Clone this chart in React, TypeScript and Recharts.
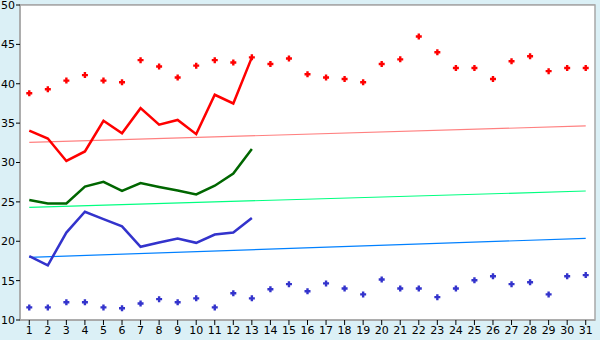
import React from 'react';
import { ComposedChart, Line, XAxis, YAxis, CartesianGrid, ReferenceArea } from 'recharts';

const days = Array.from({ length: 31 }, (_, i) => String(i + 1));

const redDots = [38.8, 39.3, 40.4, 41.1, 40.4, 40.2, 43.0, 42.2, 40.8, 42.3, 43.0, 42.7, 43.35, 42.5, 43.2, 41.2, 40.8, 40.6, 40.2, 42.5, 43.1, 46.0, 44.0, 42.0, 42.0, 40.6, 42.85, 43.5, 41.6, 42.0, 42.0];
const redLine = [34.05, 33.05, 30.2, 31.4, 35.3, 33.7, 36.9, 34.8, 35.4, 33.6, 38.6, 37.5, 43.35];
const greenLine = [25.25, 24.8, 24.8, 26.95, 27.55, 26.4, 27.4, 26.9, 26.45, 25.95, 27.05, 28.6, 31.7];
const blueLine = [18.1, 16.95, 21.1, 23.75, 22.8, 21.9, 19.3, 19.85, 20.35, 19.8, 20.85, 21.1, 22.95];
const blueDots = [11.6, 11.6, 12.25, 12.25, 11.6, 11.5, 12.1, 12.65, 12.25, 12.75, 11.6, 13.4, 12.75, 13.9, 14.55, 13.65, 14.65, 14.0, 13.25, 15.15, 14.0, 14.0, 12.9, 14.0, 15.05, 15.55, 14.55, 14.8, 13.25, 15.55, 15.7];
const redTrend = [32.55, 34.64];
const greenTrend = [24.3, 26.38];
const blueTrend = [17.96, 20.37];
const yTicks = [10, 15, 20, 25, 30, 35, 40, 45, 50];

const data = days.map((d, i) => ({
  day: d,
  redDot: redDots[i],
  blueDot: blueDots[i],
  red: i < redLine.length ? redLine[i] : null,
  green: i < greenLine.length ? greenLine[i] : null,
  blue: i < blueLine.length ? blueLine[i] : null,
  redT: i === 0 ? redTrend[0] : i === days.length - 1 ? redTrend[1] : null,
  greenT: i === 0 ? greenTrend[0] : i === days.length - 1 ? greenTrend[1] : null,
  blueT: i === 0 ? blueTrend[0] : i === days.length - 1 ? blueTrend[1] : null,
}));

const makePlus = (color: string) => (props: any) => {
  const { cx, cy, key } = props;
  if (cx == null || cy == null || props.value == null) return <g key={key} />;
  const a = 3;
  const t = 1.2;
  const d = `M${cx - t},${cy - a}H${cx + t}V${cy - t}H${cx + a}V${cy + t}H${cx + t}V${cy + a}H${cx - t}V${cy + t}H${cx - a}V${cy - t}H${cx - t}Z`;
  return <path key={key} d={d} fill={color} stroke="none" />;
};

const font = { fontFamily: 'DejaVu Sans', fontSize: 11, fill: '#000' };

export default function App() {
  return (
    <div style={{ position: 'fixed', left: 0, top: 0, width: 600, height: 340, background: '#DBF0F6' }}>
      <ComposedChart width={600} height={340} data={data} margin={{ top: 5, right: 5, bottom: 0, left: 0 }}>
        <ReferenceArea y1={10} y2={50} fill="#FFFFFF" fillOpacity={1} stroke="#A8A8A8" strokeWidth={1.5} />
        <CartesianGrid vertical={false} stroke="#A8A8A8" strokeWidth={1.5} />
        <XAxis
          dataKey="day"
          scale="band"
          interval={0}
          height={20}
          tickSize={5}
          tickMargin={1}
          axisLine={{ stroke: '#A8A8A8', strokeWidth: 1.5 }}
          tickLine={{ stroke: '#000' }}
          tick={font}
        />
        <YAxis
          domain={[10, 50]}
          ticks={yTicks}
          width={20}
          tickSize={4}
          tickMargin={1}
          interval={0}
          axisLine={{ stroke: '#A8A8A8', strokeWidth: 1.5 }}
          tickLine={{ stroke: '#000' }}
          tick={font}
        />
        <Line dataKey="redT" stroke="#FF8080" strokeWidth={1.2} dot={false} connectNulls isAnimationActive={false} />
        <Line dataKey="greenT" stroke="#00FF80" strokeWidth={1.2} dot={false} connectNulls isAnimationActive={false} />
        <Line dataKey="blueT" stroke="#0080FF" strokeWidth={1.2} dot={false} connectNulls isAnimationActive={false} />
        <Line dataKey="red" stroke="#FF0000" strokeWidth={2.5} dot={false} isAnimationActive={false} />
        <Line dataKey="green" stroke="#006600" strokeWidth={2.5} dot={false} isAnimationActive={false} />
        <Line dataKey="blue" stroke="#3333CC" strokeWidth={2.5} dot={false} isAnimationActive={false} />
        <Line dataKey="redDot" stroke="none" strokeWidth={0} dot={makePlus('#FF0000')} activeDot={false} isAnimationActive={false} />
        <Line dataKey="blueDot" stroke="none" strokeWidth={0} dot={makePlus('#3333CC')} activeDot={false} isAnimationActive={false} />
      </ComposedChart>
    </div>
  );
}
